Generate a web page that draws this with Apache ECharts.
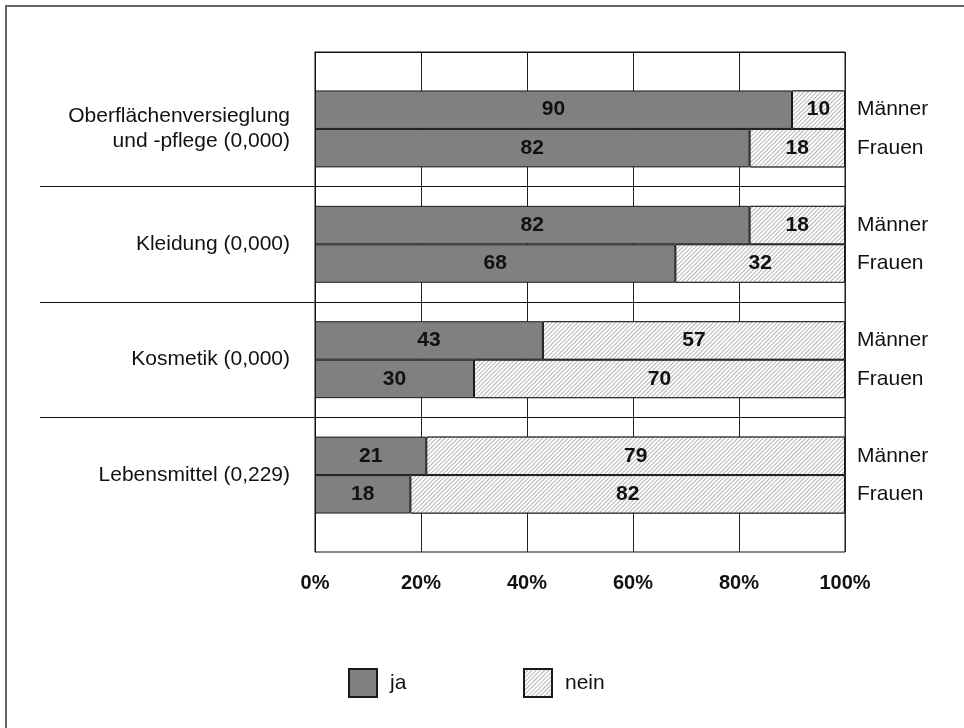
<!DOCTYPE html>
<html>
<head>
<meta charset="utf-8">
<script src="https://cdn.jsdelivr.net/npm/echarts@6/dist/echarts.min.js"></script>
<style>
  html, body { margin: 0; padding: 0; background: #fff; }
  #chart { width: 964px; height: 728px; }
</style>
</head>
<body>
<div id="chart"></div>
<script>
// Product groups (with test statistic in brackets)
const groups = [
  'Oberflächenversieglung\nund -pflege (0,000)',
  'Kleidung (0,000)',
  'Kosmetik (0,000)',
  'Lebensmittel (0,229)'
];
const sexes = ['Männer', 'Frauen'];
// Shares in percent, per group: [Männer, Frauen]
const jaValues = [[90, 82], [82, 68], [43, 30], [21, 18]];
const neinValues = [[10, 18], [18, 32], [57, 70], [79, 82]];
const xTicks = [0, 20, 40, 60, 80, 100];

// Row layout: padding slot, Männer, Frauen, gap slot, ... , padding slot
const rows = [''];
const jaRow = ['-'];
const neinRow = ['-'];
const gapRows = [];
const groupCentres = [];
groups.forEach((g, i) => {
  if (i > 0) { gapRows.push(rows.length); rows.push(''); jaRow.push('-'); neinRow.push('-'); }
  groupCentres.push(rows.length + 1);
  sexes.forEach((s, j) => {
    rows.push(s);
    jaRow.push(jaValues[i][j]);
    neinRow.push(neinValues[i][j]);
  });
});
rows.push(''); jaRow.push('-'); neinRow.push('-');

const FONT = '"Liberation Sans", Arial, Helvetica, sans-serif';
const chart = echarts.init(document.getElementById('chart'));

// fine diagonal hatching for the "nein" share
const hatch = {
  symbol: 'rect',
  symbolSize: 1,
  color: '#b4b4b4',
  backgroundColor: '#ffffff',
  dashArrayX: [1, 0],
  dashArrayY: [1, 2],
  rotation: -Math.PI / 4
};

const labelStyle = {
  show: true,
  position: 'inside',
  fontFamily: FONT,
  fontSize: 21,
  fontWeight: 'bold',
  color: '#111'
};

const legendText = { fontFamily: FONT, fontSize: 21, color: '#111', padding: [0, 0, 0, 8] };

chart.setOption({
  backgroundColor: '#ffffff',
  animation: false,
  graphic: [{
    type: 'rect',
    shape: { x: 6, y: 6, width: 1000, height: 1000 },
    style: { fill: 'none', stroke: '#666', lineWidth: 2 },
    silent: true
  }],
  legend: [
    { data: [{ name: 'ja', icon: 'rect' }], left: 343, top: 663, itemWidth: 28, itemHeight: 28, textStyle: legendText },
    { data: [{ name: 'nein', icon: 'rect' }], left: 518, top: 663, itemWidth: 28, itemHeight: 28, textStyle: legendText }
  ],
  grid: {
    left: 315, right: 119, top: 52, bottom: 176,
    show: true, borderColor: '#111', borderWidth: 1, backgroundColor: 'transparent'
  },
  xAxis: {
    type: 'value', min: 0, max: 100, interval: 20,
    axisLine: { show: true, lineStyle: { color: '#111', width: 1 } },
    axisTick: { show: true, length: 6, lineStyle: { color: '#111' } },
    splitLine: { show: true, lineStyle: { color: '#222', width: 1 } },
    axisLabel: {
      margin: 21, fontFamily: FONT, fontSize: 20, fontWeight: 'bold', color: '#111',
      customValues: xTicks,
      formatter: v => v + '%'
    }
  },
  yAxis: [
    {
      type: 'category', position: 'right', inverse: true, data: rows,
      axisLine: { show: false },
      axisTick: {
        show: true, alignWithLabel: true, length: 100, inside: false,
        interval: idx => gapRows.indexOf(idx) >= 0,
        lineStyle: { color: '#111', width: 1 }
      },
      axisLabel: { margin: 12, fontFamily: FONT, fontSize: 21, color: '#111', interval: 0 },
      splitLine: { show: false }
    },
    {
      type: 'value', position: 'left', inverse: true, min: 0, max: rows.length,
      axisLine: { show: true, onZero: false, lineStyle: { color: '#111', width: 1 } },
      splitLine: { show: false },
      axisTick: {
        show: true, length: 275, inside: false,
        customValues: gapRows.map(r => r + 0.5),
        lineStyle: { color: '#111', width: 1 }
      },
      axisLabel: {
        margin: 25, fontFamily: FONT, fontSize: 21, lineHeight: 25, color: '#111', align: 'right',
        customValues: groupCentres,
        formatter: v => {
          const k = groupCentres.indexOf(Math.round(v));
          return k >= 0 ? groups[k] : '';
        }
      }
    }
  ],
  series: [
    {
      name: 'ja', type: 'bar', stack: 'total', yAxisIndex: 0,
      barWidth: '100%', barCategoryGap: 0,
      data: jaRow,
      itemStyle: { color: '#808080', borderColor: '#1a1a1a', borderWidth: 1 },
      label: labelStyle,
      markLine: {
        silent: true, symbol: 'none', label: { show: false },
        lineStyle: { color: '#111', width: 1, type: 'solid' },
        data: gapRows.map(r => ({ yAxis: r }))
      }
    },
    {
      name: 'nein', type: 'bar', stack: 'total', yAxisIndex: 0,
      barWidth: '100%', barCategoryGap: 0,
      data: neinRow,
      itemStyle: { color: '#ffffff', borderColor: '#1a1a1a', borderWidth: 1, decal: hatch },
      label: labelStyle
    }
  ]
});
</script>
</body>
</html>
